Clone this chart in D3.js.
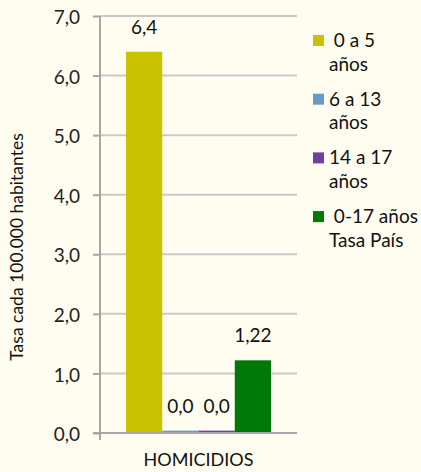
<!DOCTYPE html>
<html>
<head>
<meta charset="utf-8">
<script src="https://cdn.jsdelivr.net/npm/d3@7"></script>
<style>
  body { margin: 0; background: #fffdf0; }
  svg { display: block; font-family: Lato, "Open Sans", sans-serif; }
</style>
</head>
<body>
<div id="chart"></div>
<script>
// data
const categories = ["HOMICIDIOS"];
const series = ["0 a 5 años", "6 a 13 años", "14 a 17 años", "0-17 años Tasa País"];
const values = [6.4, 0.04, 0.04, 1.22];
const valueLabels = ["6,4", "0,0", "0,0", "1,22"];
const yTicks = [0, 1, 2, 3, 4, 5, 6, 7];
const legendLines = [[" 0 a 5", "años"], ["6 a 13", "años"], ["14 a 17", "años"], [" 0-17 años", "Tasa País"]];
const colors = ["#c9c200", "#6699cc", "#7040a0", "#00780a"];

const W = 421, H = 472;
const plot = {left: 100, right: 297, top: 16, bottom: 433};

const svg = d3.select("#chart").append("svg")
  .attr("width", W).attr("height", H);

svg.append("rect").attr("width", W).attr("height", H).attr("fill", "#fffdf0");

// scales
const y = d3.scaleLinear().domain([0, 7]).range([plot.bottom, plot.top]);
const x0 = d3.scaleBand().domain(categories)
  .range([plot.left, plot.right]).paddingInner(0).paddingOuter(0.179);
const x1 = d3.scaleBand().domain(series).range([0, x0.bandwidth()]).padding(0);

// gridlines
svg.append("g")
  .selectAll("line")
  .data(yTicks.filter(d => d > 0))
  .join("line")
  .attr("x1", plot.left).attr("x2", plot.right)
  .attr("y1", d => y(d)).attr("y2", d => y(d))
  .attr("stroke", "#c9c9c9").attr("stroke-width", 2);

// y axis
const yAxis = svg.append("g")
  .attr("transform", `translate(${plot.left},0)`)
  .call(d3.axisLeft(y).tickValues(yTicks).tickSize(7).tickPadding(13)
    .tickFormat(d => d3.format(".1f")(d).replace(".", ",")));
yAxis.select(".domain").attr("stroke", "#a6a6a6").attr("stroke-width", 2).attr("d", `M0,${plot.top}V${plot.bottom}`);
yAxis.selectAll(".tick line").attr("stroke", "#a6a6a6").attr("stroke-width", 2);
yAxis.selectAll(".tick text").attr("fill", "#222").attr("dy", "0.4em").style("font-size", "19px").style("font-family", "Lato");

// bars
const group = svg.append("g")
  .attr("transform", `translate(${x0(categories[0])},0)`);

group.selectAll("rect")
  .data(values)
  .join("rect")
  .attr("x", (d, i) => x1(series[i]))
  .attr("y", d => y(d))
  .attr("width", x1.bandwidth())
  .attr("height", d => y(0) - y(d))
  .attr("fill", (d, i) => colors[i]);

// value labels
group.selectAll("text")
  .data(values)
  .join("text")
  .attr("x", (d, i) => x1(series[i]) + x1.bandwidth() / 2)
  .attr("y", d => y(d) - 18)
  .attr("text-anchor", "middle")
  .attr("fill", "#111")
  .style("font-size", "19px")
  .text((d, i) => valueLabels[i]);

// x axis
svg.append("line")
  .attr("x1", plot.left - 7).attr("x2", plot.right)
  .attr("y1", plot.bottom).attr("y2", plot.bottom)
  .attr("stroke", "#a6a6a6").attr("stroke-width", 2);
svg.append("line")
  .attr("x1", plot.left).attr("x2", plot.left)
  .attr("y1", plot.bottom).attr("y2", plot.bottom + 7)
  .attr("stroke", "#a6a6a6").attr("stroke-width", 2);

svg.append("text")
  .attr("x", x0(categories[0]) + x0.bandwidth() / 2)
  .attr("y", 466)
  .attr("text-anchor", "middle")
  .attr("fill", "#111")
  .style("font-size", "18px")
  .text(categories[0]);

// y title
svg.append("text")
  .attr("transform", `translate(23,247) rotate(-90)`)
  .attr("text-anchor", "middle")
  .attr("fill", "#111")
  .style("font-size", "17.5px")
  .text("Tasa cada 100.000 habitantes");

// legend
const legend = svg.append("g").attr("transform", "translate(313,35)");
const item = legend.selectAll("g")
  .data(series)
  .join("g")
  .attr("transform", (d, i) => `translate(0,${i * 58.7})`);

item.append("rect")
  .attr("width", 11).attr("height", 11)
  .attr("fill", (d, i) => colors[i]);

item.append("text")
  .attr("fill", "#111")
  .style("font-size", "19px")
  .style("white-space", "pre")
  .selectAll("tspan")
  .data((d, i) => legendLines[i])
  .join("tspan")
  .attr("x", 16)
  .attr("y", (d, j) => 12 + j * 23.5)
  .text(d => d);
</script>
</body>
</html>
